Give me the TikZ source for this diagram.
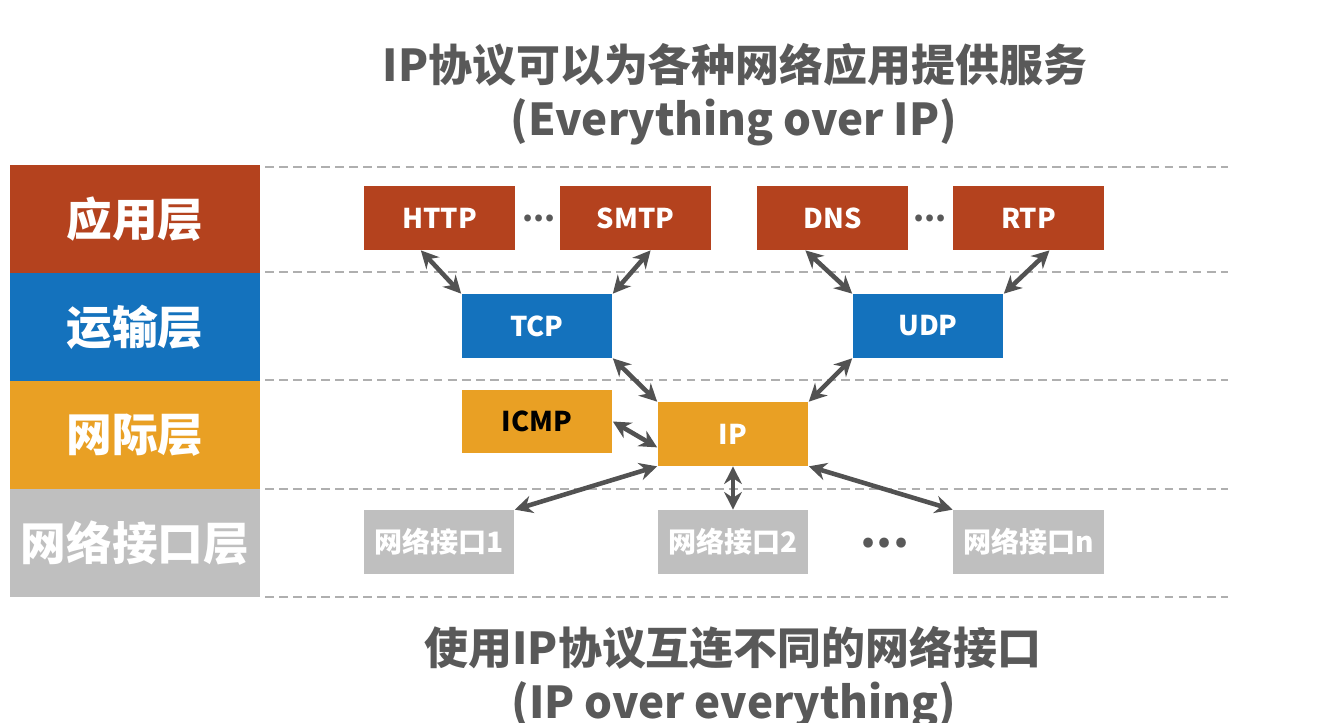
\documentclass[tikz,border=0pt]{standalone}
\usepackage{fontspec}
\setmainfont{Noto Sans CJK SC}
\definecolor{appred}{RGB}{180, 66, 30}
\definecolor{transblue}{RGB}{20, 114, 189}
\definecolor{netorange}{RGB}{233, 160, 36}
\definecolor{ifgray}{RGB}{191, 191, 191}
\definecolor{titlegray}{RGB}{89, 89, 89}
\definecolor{arrowgray}{RGB}{82, 82, 82}
\definecolor{dashgray}{RGB}{175, 175, 175}
\usetikzlibrary{arrows.meta, calc}

\begin{document}
\begin{tikzpicture}[
        x=0.02cm, y=-0.02cm,
        layer/.style={minimum width=5cm, minimum height=2.16cm, inner sep=0pt,
                      text=white, font=\bfseries\fontsize{26}{30}\selectfont},
        box/.style={minimum width=3.02cm, minimum height=1.28cm, inner sep=0pt,
                    text=white, font=\bfseries\fontsize{15.5}{18}\selectfont},
        iface/.style={box, fill=ifgray, font=\bfseries\fontsize{16}{18}\selectfont},
        title/.style={text=titlegray, font=\bfseries\fontsize{25}{30}\selectfont},
        dots/.style={anchor=base, inner sep=0pt, text=titlegray,
                     font=\bfseries\fontsize{18}{20}\selectfont},
        arrow/.style={{Stealth[length=10pt, width=10pt]}-{Stealth[length=10pt, width=10pt]},
                      line width=2.6pt, arrowgray}
    ]
        \useasboundingbox (0,0) rectangle (1320,723);

        % Titles
        \node[title] (toptitle) at (735,65) {IP协议可以为各种网络应用提供服务};
        \node[title] (topsub) at (734,122) {(Everything over IP)};
        \node[title] (bottitle) at (733,648) {使用IP协议互连不同的网络接口};
        \node[title] (botsub) at (734,705) {(IP over everything)};

        % Layer separators
        \foreach \y in {167, 272, 380, 489, 597}
            \draw[dashgray, dashed, line width=1pt, dash pattern=on 5pt off 3pt]
                (265,\y) -- (1228,\y);

        % Layer column
        \node[layer, fill=appred] (app) at (135,219) {应用层};
        \node[layer, fill=transblue] (trans) at (135,327) {运输层};
        \node[layer, fill=netorange] (inet) at (135,435) {网际层};
        \node[layer, fill=ifgray] (link) at (135,543) {网络接口层};

        % Application protocols
        \node[box, fill=appred] (http) at (439.5,218) {HTTP};
        \node[box, fill=appred] (smtp) at (635.5,218) {SMTP};
        \node[box, fill=appred] (dns) at (832.5,218) {DNS};
        \node[box, fill=appred] (rtp) at (1028.5,218) {RTP};
        \node[dots] (dotsa) at (539,222) {...};
        \node[dots] (dotsb) at (930,222) {...};

        % Transport protocols
        \node[box, fill=transblue] (tcp) at (537,326) {TCP};
        \node[box, fill=transblue] (udp) at (928,326) {UDP};

        % Internet layer
        \node[box, fill=netorange, text=black] (icmp) at (537,421.5) {ICMP};
        \node[box, fill=netorange] (ip) at (733,434) {IP};

        % Network interfaces
        \node[iface] (ifa) at (439,542) {网络接口1};
        \node[iface] (ifb) at (733,542) {网络接口2};
        \node[iface] (ifn) at (1028.5,542) {网络接口n};
        \node[dots, font=\bfseries\fontsize{26}{28}\selectfont] (dotsc) at (885,547) {...};

        % Arrows
        \draw[arrow] (http.-120) -- (tcp.north west);
        \draw[arrow] (smtp.-65) -- (tcp.north east);
        \draw[arrow] (dns.-130) -- (udp.north west);
        \draw[arrow] (rtp.-57) -- (udp.north east);
        \draw[arrow] (tcp.south east) -- (ip.north west);
        \draw[arrow] (udp.south west) -- (ip.north east);
        \draw[arrow] (icmp.east) -- (ip.-170);
        \draw[arrow] (ip.south west) -- (ifa.north east);
        \draw[arrow] (ip.south) -- (ifb.north);
        \draw[arrow] (ip.south east) -- (ifn.north west);
    \end{tikzpicture}
\end{document}
